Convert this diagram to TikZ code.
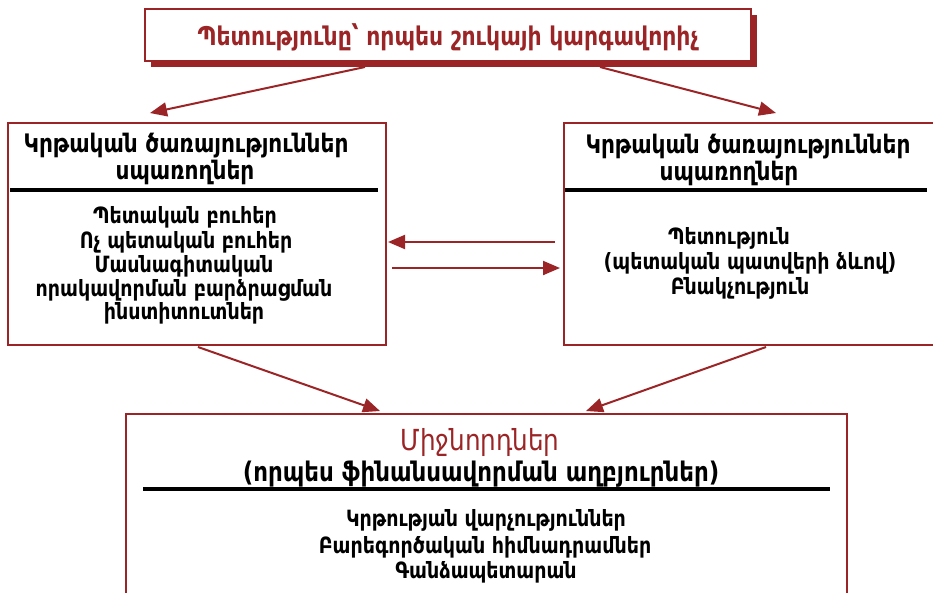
\documentclass[tikz,border=0pt]{standalone}
\usepackage{fontspec}
\setmainfont{DejaVu Sans}
\newfontfamily\narrowfont[FakeStretch=0.85]{DejaVu Sans}
\usetikzlibrary{arrows.meta,shadows}
\definecolor{dred}{HTML}{9B2526}
\tikzset{
  box/.style={draw=dred,line width=1.6pt,fill=white,rectangle,inner sep=0pt},
  conn/.style={draw=dred,line width=2pt,-{Triangle[length=17pt,width=14pt]}},
  rule/.style={line width=4.5pt,black},
  txt/.style={font=\narrowfont\bfseries\fontsize{22.4}{24}\selectfont,text=black,inner sep=0pt,anchor=center},
  head/.style={font=\narrowfont\bfseries\fontsize{25.5}{26}\selectfont,text=black,inner sep=0pt,anchor=center}
}
\begin{document}
\begin{tikzpicture}[x=1pt,y=-1pt]
\useasboundingbox (0,0) rectangle (933,592);
% boxes
\node[box,minimum width=606pt,minimum height=52pt,
  drop shadow={shadow xshift=6pt,shadow yshift=-6pt,fill=dred,opacity=1}] (top) at (448,35) {};
\node[box,minimum width=378pt,minimum height=222pt] (left) at (197,234) {};
\node[box,minimum width=372pt,minimum height=222pt] (right) at (750,234) {};
\node[box,minimum width=721pt,minimum height=190pt] (bot) at (486.5,509) {};
% rules
\coordinate (lr1) at (10,190); \coordinate (lr2) at (378,190);
\coordinate (rr1) at (565,190); \coordinate (rr2) at (927,190);
\coordinate (br1) at (143,489); \coordinate (br2) at (830,489);
\draw[rule] (lr1) -- (lr2);
\draw[rule] (rr1) -- (rr2);
\draw[rule] (br1) -- (br2);
% texts
\node[font=\narrowfont\bfseries\fontsize{25.8}{24}\selectfont,text=dred,inner sep=0pt] (ttop) at (448,37) {Պետությունը՝ որպես շուկայի կարգավորիչ};
\node[head] (lh1) at (186,146) {Կրթական ծառայություններ};
\node[head] (lh2) at (185,172) {սպառողներ};
\node[head] (rh1) at (748,147) {Կրթական ծառայություններ};
\node[head] (rh2) at (729,173) {սպառողներ};
\node[txt] (l1) at (185,217) {Պետական բուհեր};
\node[txt] (l2) at (186,242) {Ոչ պետական բուհեր};
\node[txt] (l3) at (184,266) {Մասնագիտական};
\node[txt] (l4) at (184,290) {որակավորման բարձրացման};
\node[txt] (l5) at (184,313) {ինստիտուտներ};
\node[txt] (r1) at (729,238) {Պետություն};
\node[txt] (r2) at (750,263) {(պետական պատվերի ձևով)};
\node[txt] (r3) at (740,288) {Բնակչություն};
\node[font=\narrowfont\fontsize{29}{30}\selectfont,text=dred,inner sep=0pt] (bt) at (480,442) {Միջնորդներ};
\node[font=\narrowfont\bfseries\fontsize{27}{28}\selectfont,inner sep=0pt] (bs) at (481,474) {(որպես ֆինանսավորման աղբյուրներ)};
\node[txt] (b1) at (486,520) {Կրթության վարչություններ};
\node[txt] (b2) at (485,547) {Բարեգործական հիմնադրամներ};
\node[txt] (b3) at (486,572) {Գանձապետարան};
% connectors
\coordinate (t1) at (365,67); \coordinate (t1e) at (150,113);
\coordinate (t2) at (600,67); \coordinate (t2e) at (776,113);
\coordinate (h1) at (555,242); \coordinate (h1e) at (388,242);
\coordinate (h2) at (392,268); \coordinate (h2e) at (560,268);
\coordinate (d1) at (198,347); \coordinate (d1e) at (380,411);
\coordinate (d2) at (766,347); \coordinate (d2e) at (586,411);
\draw[conn] (t1) -- (t1e);
\draw[conn] (t2) -- (t2e);
\draw[conn] (h1) -- (h1e);
\draw[conn] (h2) -- (h2e);
\draw[conn] (d1) -- (d1e);
\draw[conn] (d2) -- (d2e);
\end{tikzpicture}
\end{document}
